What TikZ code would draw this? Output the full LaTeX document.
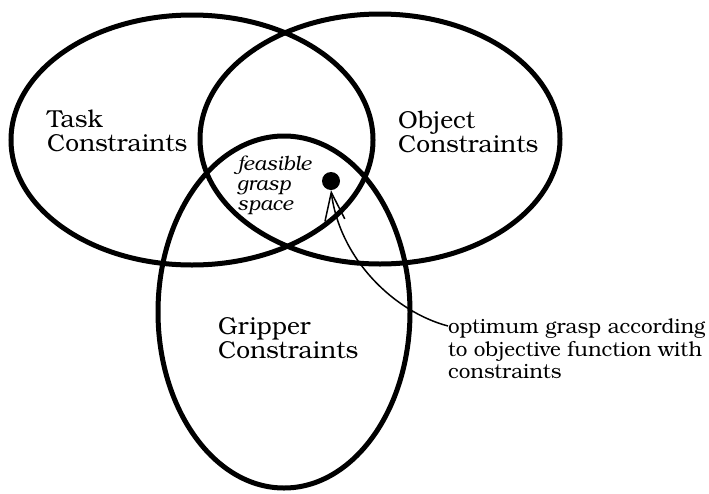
\documentclass[tikz,border=0pt]{standalone}
\usepackage{fontspec}
\setmainfont{TeX Gyre Bonum}
\usetikzlibrary{shapes.geometric,arrows.meta}
\tikzset{
  venn/.style={draw, ellipse, line width=5pt, inner sep=0pt},
  biglabel/.style={anchor=north west, inner sep=0pt, align=left, font=\fontsize{24.5}{24}\selectfont},
  smalllabel/.style={anchor=north west, inner sep=0pt, align=left, font=\fontsize{20.6}{22.5}\selectfont},
  itlabel/.style={anchor=north west, inner sep=0pt, align=left, font=\fontsize{20}{20}\selectfont\itshape},
  pointer/.style={line width=1.5pt, -{Straight Barb[length=28pt,width=20pt,line width=1.5pt]}}
}
\begin{document}
\begin{tikzpicture}[x=1pt,y=-1pt]
\useasboundingbox (0,0) rectangle (709,493);
\node[venn, minimum width=362pt, minimum height=250pt] (task) at (192,140) {};
\node[venn, minimum width=360pt, minimum height=250pt] (object) at (380,139) {};
\node[venn, minimum width=252pt, minimum height=352pt] (gripper) at (284,312) {};
\node[biglabel] (tasklbl) at (47,110) {Task\\Constraints};
\node[biglabel] (objlbl) at (398,111) {Object\\Constraints};
\node[biglabel] (griplbl) at (218,317) {Gripper\\Constraints};
\node[itlabel] (feas) at (237,156) {feasible\\grasp\\space};
\node[circle, fill, minimum size=18pt, inner sep=0pt] (dot) at (331,181) {};
\node[smalllabel] (opt) at (448,319) {optimum grasp according\\to objective function with\\constraints};
\coordinate (start) at ([yshift=-7pt]opt.north west);
\draw[pointer] (start) .. controls (395,312) and (340,260) .. (dot.south);
\end{tikzpicture}
\end{document}
